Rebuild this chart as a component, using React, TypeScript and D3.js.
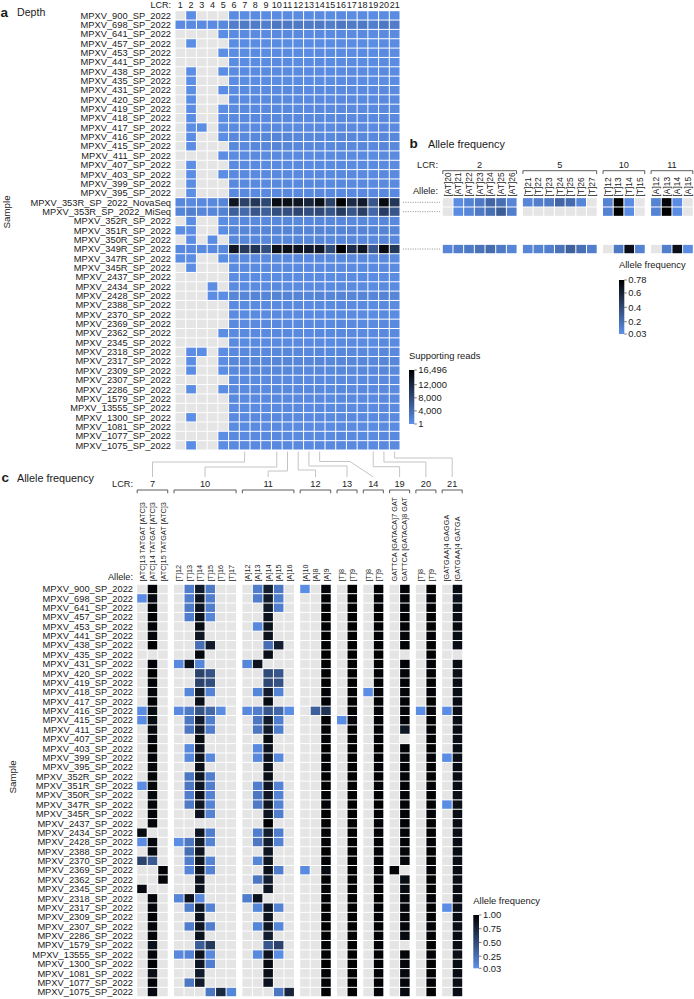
import React from "react";
import * as d3 from "d3";

const FONT = "Liberation Sans, Arial, Helvetica, sans-serif";
const INK = "#1a1a1a";
const GREY = "#e5e5e5";
const LOW = "#5d90e9";

// ---------- panel a: depth ----------
const lcrA = ["1","2","3","4","5","6","7","8","9","10","11","12","13","14","15","16","17","18","19","20","21"];
const samplesA = [
  "MPXV_900_SP_2022","MPXV_698_SP_2022","MPXV_641_SP_2022","MPXV_457_SP_2022","MPXV_453_SP_2022",
  "MPXV_441_SP_2022","MPXV_438_SP_2022","MPXV_435_SP_2022","MPXV_431_SP_2022","MPXV_420_SP_2022",
  "MPXV_419_SP_2022","MPXV_418_SP_2022","MPXV_417_SP_2022","MPXV_416_SP_2022","MPXV_415_SP_2022",
  "MPXV_411_SP_2022","MPXV_407_SP_2022","MPXV_403_SP_2022","MPXV_399_SP_2022","MPXV_395_SP_2022",
  "MPXV_353R_SP_2022_NovaSeq","MPXV_353R_SP_2022_MiSeq","MPXV_352R_SP_2022","MPXV_351R_SP_2022",
  "MPXV_350R_SP_2022","MPXV_349R_SP_2022","MPXV_347R_SP_2022","MPXV_345R_SP_2022","MPXV_2437_SP_2022",
  "MPXV_2434_SP_2022","MPXV_2428_SP_2022","MPXV_2388_SP_2022","MPXV_2370_SP_2022","MPXV_2369_SP_2022",
  "MPXV_2362_SP_2022","MPXV_2345_SP_2022","MPXV_2318_SP_2022","MPXV_2317_SP_2022","MPXV_2309_SP_2022",
  "MPXV_2307_SP_2022","MPXV_2286_SP_2022","MPXV_1579_SP_2022","MPXV_13555_SP_2022","MPXV_1300_SP_2022",
  "MPXV_1081_SP_2022","MPXV_1077_SP_2022","MPXV_1075_SP_2022",
];
// supporting reads, one row per sample, LCR 1..21 (0 = no reads)
const depthA = [
  [0,300,0,0,0, 520,480,560,500,610,590,540,520,600,470,650,510,560,450,620,500],
  [600,700,600,550,900, 2200,2500,2400,2000,2800,2700,2600,2400,2600,2200,2900,2400,2600,2000,2800,2300],
  [0,0,0,0,300, 600,550,620,580,700,680,640,600,680,560,720,600,650,540,700,580],
  [0,250,0,0,0, 450,420,480,440,520,500,470,450,510,430,550,450,480,400,530,440],
  [0,0,0,0,280, 500,470,530,490,580,560,520,500,560,470,600,490,530,450,580,480],
  [0,0,0,0,0, 480,450,510,470,560,540,500,480,540,450,580,470,510,430,560,460],
  [0,300,0,0,320, 550,520,580,540,640,620,580,550,620,520,660,540,580,500,640,530],
  [0,250,0,0,0, 420,400,450,420,500,480,450,430,480,400,520,430,450,380,500,420],
  [0,280,0,0,300, 600,560,630,580,700,680,640,600,680,560,720,600,640,540,700,580],
  [0,300,0,0,0, 650,600,680,640,760,740,700,660,740,620,780,650,700,600,760,640],
  [0,320,0,0,310, 700,650,720,680,800,780,740,700,780,660,820,690,740,640,800,680],
  [0,300,0,0,330, 720,680,760,700,840,820,780,740,820,700,860,720,780,660,840,700],
  [0,300,400,0,300, 650,610,690,640,760,740,700,660,740,620,780,650,700,600,760,640],
  [0,350,0,0,350, 900,850,950,1100,1300,1250,1050,900,1000,850,1100,900,950,800,1050,900],
  [0,330,0,0,0, 850,800,900,1050,1250,1200,1000,880,950,820,1050,860,920,780,1000,860],
  [0,0,0,0,300, 600,560,640,600,700,680,650,610,680,570,720,600,650,550,700,590],
  [0,280,0,0,0, 620,580,650,610,720,700,660,620,700,580,740,620,660,560,720,600],
  [0,300,0,0,300, 700,650,730,690,800,780,740,700,780,660,820,690,740,640,800,680],
  [0,300,0,0,0, 750,700,780,740,860,840,800,760,840,710,880,740,800,690,860,730],
  [0,280,0,0,0, 680,640,710,670,780,760,720,690,760,640,800,670,720,620,780,660],
  [900,800,700,800,1100, 14000,9100,10200,8300,15200,14800,14000,12400,14800,9100,16496,11500,13500,6600,15200,10200],
  [1200,2000,1100,1000,1600, 5600,4400,6800,5600,7400,7400,8600,7400,8000,6700,9600,6700,9300,4700,9500,6700],
  [0,300,0,0,320, 800,750,840,790,920,900,860,810,900,760,940,800,860,740,920,780],
  [400,350,0,0,350, 1200,1150,1300,1250,1450,1400,1350,1250,1400,1200,1450,1250,1350,1150,1400,1200],
  [0,300,0,350,0, 900,850,950,900,1050,1000,980,920,1000,860,1050,900,960,840,1020,880],
  [800,900,700,800,900, 14000,9900,10700,7400,14800,14800,14400,13500,13700,8300,16496,11500,14000,6600,15300,10200],
  [350,300,0,0,300, 700,660,740,700,820,800,760,720,800,680,840,700,760,650,820,690],
  [0,280,0,0,0, 600,560,630,590,700,680,640,600,680,560,720,600,640,540,700,580],
  [0,0,0,0,0, 500,470,530,500,580,560,530,500,560,470,600,500,530,460,580,480],
  [0,0,0,300,0, 550,520,580,550,640,620,580,550,620,520,660,540,580,500,640,530],
  [0,0,0,350,350, 1200,1100,1250,1200,1400,1350,1300,1200,1350,1150,1400,1200,1300,1100,1350,1150],
  [0,0,0,0,0, 600,560,630,590,700,680,640,600,680,560,720,600,640,540,700,580],
  [0,0,0,0,0, 550,520,580,550,640,620,580,550,620,520,660,540,580,500,640,530],
  [0,0,0,0,0, 650,610,690,640,760,740,700,660,740,620,780,650,700,600,760,640],
  [0,0,0,0,300, 700,650,730,690,800,780,740,700,780,660,820,690,740,640,800,680],
  [0,0,0,0,0, 550,520,580,550,640,620,580,550,620,520,660,540,580,500,640,530],
  [0,300,300,0,300, 800,750,840,790,920,900,860,810,900,760,940,800,860,740,920,780],
  [0,350,0,0,350, 1000,950,1050,1000,1150,1100,1080,1000,1100,950,1150,1000,1060,930,1120,980],
  [0,300,0,0,300, 850,800,900,850,980,950,920,860,950,820,1000,850,920,800,980,840],
  [0,0,0,0,0, 600,560,630,590,700,680,640,600,680,560,720,600,640,540,700,580],
  [0,300,0,0,300, 750,700,780,740,860,840,800,760,840,710,880,740,800,690,860,730],
  [0,0,0,0,0, 650,610,690,640,760,740,700,660,740,620,780,650,700,600,760,640],
  [0,0,0,0,0, 600,560,630,590,700,680,640,600,680,560,720,600,640,540,700,580],
  [0,280,0,0,0, 700,650,730,690,800,780,740,700,780,660,820,690,740,640,800,680],
  [0,0,0,0,0, 550,520,580,550,640,620,580,550,620,520,660,540,580,500,640,530],
  [0,0,0,0,300, 650,610,690,640,760,740,700,660,740,620,780,650,700,600,760,640],
  [0,300,0,0,300, 700,650,730,690,800,780,740,700,780,660,820,690,740,640,800,680],
];
const depthTicks = [1, 4000, 8000, 12000, 16496];

// ---------- panel b: allele frequency (3 samples) ----------
const lcrB = ["2", "5", "10", "11"];
const allelesB = [
  ["[AT]20","[AT]21","[AT]22","[AT]23","[AT]24","[AT]25","[AT]26"],
  ["[T]21","[T]22","[T]23","[T]24","[T]25","[T]26","[T]27"],
  ["[T]12","[T]13","[T]14","[T]15"],
  ["[A]12","[A]13","[A]14","[A]15"],
];
const samplesB = ["MPXV_353R_SP_2022_NovaSeq", "MPXV_353R_SP_2022_MiSeq", "MPXV_349R_SP_2022"];
const afBNovaSeq = [0,.05,.1,.15,.25,.2,.08, .08,.12,.15,.25,.22,.08,0, .1,.78,.05,0, .1,.75,.05,0];
const afBMiSeq = [0,.05,.08,.15,.2,.3,.12, 0,0,0,0,0,0,0, .1,.78,.05,0, .1,.78,.05,0];
const afB349R = [.08,.12,.15,.18,.22,.15,.08, .08,.1,.12,.18,.28,.2,.12, 0,.15,.7,.1, 0,.12,.7,.05];
const afBTicks = [0.03, 0.2, 0.4, 0.6, 0.78];

// ---------- panel c: allele frequency (all samples) ----------
const samplesC = [
  "MPXV_900_SP_2022","MPXV_698_SP_2022","MPXV_641_SP_2022","MPXV_457_SP_2022","MPXV_453_SP_2022",
  "MPXV_441_SP_2022","MPXV_438_SP_2022","MPXV_435_SP_2022","MPXV_431_SP_2022","MPXV_420_SP_2022",
  "MPXV_419_SP_2022","MPXV_418_SP_2022","MPXV_417_SP_2022","MPXV_416_SP_2022","MPXV_415_SP_2022",
  "MPXV_411_SP_2022","MPXV_407_SP_2022","MPXV_403_SP_2022","MPXV_399_SP_2022","MPXV_395_SP_2022",
  "MPXV_352R_SP_2022","MPXV_351R_SP_2022","MPXV_350R_SP_2022","MPXV_347R_SP_2022","MPXV_345R_SP_2022",
  "MPXV_2437_SP_2022","MPXV_2434_SP_2022","MPXV_2428_SP_2022","MPXV_2388_SP_2022","MPXV_2370_SP_2022",
  "MPXV_2369_SP_2022","MPXV_2362_SP_2022","MPXV_2345_SP_2022","MPXV_2318_SP_2022","MPXV_2317_SP_2022",
  "MPXV_2309_SP_2022","MPXV_2307_SP_2022","MPXV_2286_SP_2022","MPXV_1579_SP_2022","MPXV_13555_SP_2022",
  "MPXV_1300_SP_2022","MPXV_1081_SP_2022","MPXV_1077_SP_2022","MPXV_1075_SP_2022",
];
const lcrC = ["7", "10", "11", "12", "13", "14", "19", "20", "21"];
const allelesC = [
  ["[ATC]13 TATGAT [ATC]3","[ATC]14 TATGAT [ATC]3","[ATC]15 TATGAT [ATC]3"],
  ["[T]12","[T]13","[T]14","[T]15","[T]16","[T]17"],
  ["[A]12","[A]13","[A]14","[A]15","[A]16"],
  ["[A]10","[A]8","[A]9"],
  ["[T]8","[T]9"],
  ["[T]8","[T]9"],
  ["GATTCA [GATACA]7 GAT","GATTCA [GATACA]8 GAT"],
  ["[T]8","[T]9"],
  ["[GATGAA]4 GAGGA","[GATGAA]4 GATGA"],
];
const afC7 = [
  [0,.97,0],[.05,.93,0],[0,.97,0],[0,.98,0],[0,.97,0],[0,.95,0],[0,.99,0],[0,0,0],[0,.97,0],[0,.99,0],
  [0,.97,0],[0,.95,0],[0,.98,0],[.06,.92,0],[.06,.92,0],[0,.94,0],[0,.95,0],[0,.99,0],[0,.97,0],[0,.95,0],
  [0,.96,0],[.05,.95,0],[0,.94,0],[0,.96,0],[0,.97,0],[0,.95,0],[.92,0,0],[.05,.95,0],[0,.93,0],[.55,.4,0],
  [0,0,.97],[0,0,.96],[.93,0,0],[0,.96,0],[0,.95,0],[0,.98,0],[0,.96,0],[0,.97,0],[0,.88,0],[0,.96,0],
  [0,.98,0],[0,.9,0],[0,.97,0],[0,.93,0],
];
const afC10 = [
  [0,.15,.82,.18,0,0],[0,.15,.85,.15,0,0],[0,.18,.85,.15,0,0],[0,.15,.87,.1,0,0],[0,0,.92,0,0,0],
  [0,0,.85,0,0,0],[0,0,.25,.82,0,0],[0,0,.95,0,0,0],[.08,.88,.1,0,0,0],[0,0,.55,.45,0,0],
  [0,0,.55,.48,0,0],[0,.1,.82,.12,0,0],[0,0,.9,0,0,0],[.07,.18,.45,.3,.06,0],[0,.2,.82,.15,0,0],
  [0,.2,.82,.15,0,0],[0,0,.92,0,0,0],[0,.08,.87,0,0,0],[0,.08,.87,.08,0,0],[0,0,.9,0,0,0],
  [0,.2,.85,.15,0,0],[0,.2,.85,.15,0,0],[0,.15,.87,.12,0,0],[0,.18,.85,.12,0,0],[0,0,.87,.12,0,0],
  [0,0,0,0,0,0],[0,0,.85,.15,0,0],[.05,.2,.82,.12,0,0],[0,.25,.85,0,0,0],[0,.15,.85,.12,0,0],
  [0,.1,.87,.12,0,0],[0,0,.87,0,0,0],[0,0,.87,0,0,0],[.1,.87,.08,0,0,0],[0,.15,.85,.12,0,0],
  [0,0,.87,0,0,0],[0,.15,.85,.15,0,0],[0,0,.87,0,0,0],[0,0,.38,.62,0,0],[.08,.12,.87,.08,0,0],
  [0,0,.85,.15,0,0],[0,0,.82,0,0,0],[0,.2,.82,0,0,0],[0,0,0,.2,.72,.1],
];
const afC11 = [
  [0,.15,.8,.2,0],[0,.15,.82,.15,0],[0,0,.82,.15,0],[0,0,.87,0,0],[0,.08,.87,0,0],
  [0,0,.87,0,0],[0,0,.25,.8,0],[0,0,.9,0,0],[.1,.87,0,0,0],[0,0,.5,.42,0],
  [0,0,.52,.45,0],[0,.1,.82,.12,0],[0,0,.92,0,0],[.08,.15,.42,.3,.05],[0,.2,.82,.15,0],
  [0,.2,.82,.15,0],[0,0,.92,0,0],[0,.08,.87,0,0],[0,.08,.87,.08,0],[0,0,.9,0,0],
  [0,0,.9,0,0],[0,.15,.85,.12,0],[0,.2,.85,.12,0],[0,.18,.85,.12,0],[0,0,.85,.15,0],
  [0,0,.99,0,0],[0,.15,.8,.15,0],[0,.2,.8,.12,0],[0,0,.85,0,0],[0,.1,.85,0,0],
  [0,0,.88,.15,0],[0,.2,.8,0,0],[0,0,.85,0,0],[.15,.87,0,0,0],[0,.1,.85,.12,0],
  [0,0,.85,0,0],[0,.1,.85,.1,0],[0,0,.8,0,0],[0,0,.42,.55,0],[0,.08,.87,.05,0],
  [0,0,.92,0,0],[0,0,.9,0,0],[0,0,.87,0,0],[0,0,0,.2,.75],
];
const afC12 = [
  [.05,0,.95],[0,0,.98],[0,0,.98],[0,0,.99],[0,0,.98],[0,0,.99],[0,0,.98],[0,0,.99],[0,0,.98],[0,0,.98],
  [0,0,.99],[0,0,.97],[0,0,.98],[0,.35,.65],[0,0,.98],[0,0,.97],[0,0,.98],[0,0,.99],[0,0,.98],[0,0,.97],
  [0,0,.98],[0,0,.99],[0,0,.98],[0,0,.97],[0,0,.99],[0,0,.98],[0,0,.97],[0,0,.98],[0,0,.99],[0,0,.98],
  [.07,0,.92],[0,0,.98],[0,0,.97],[0,0,.98],[0,0,.99],[0,0,.98],[0,0,.99],[0,0,.98],[0,0,.97],[0,0,.98],
  [0,0,.99],[0,0,.98],[0,0,.97],[0,0,.98],
];
const afC13 = [
  [0,.99],[0,.99],[0,.98],[0,.99],[0,.99],[0,.98],[0,.99],[0,.99],[0,.98],[0,.99],
  [0,.99],[0,.98],[0,.99],[0,.98],[.05,.95],[0,.99],[0,.98],[0,.99],[0,.99],[0,.98],
  [0,.99],[0,.99],[0,.98],[0,.99],[0,.99],[0,.98],[0,.99],[0,.99],[0,.98],[0,.99],
  [0,.99],[0,.98],[0,.99],[0,.99],[0,.98],[0,.99],[0,.99],[0,.98],[0,.99],[0,.99],
  [0,.98],[0,.99],[0,.99],[0,.98],
];
const afC14 = [
  [0,.98],[0,.97],[0,.98],[0,.99],[0,.98],[0,.97],[0,.98],[0,.99],[0,.98],[0,.97],
  [0,.98],[.05,.95],[0,.98],[0,.96],[0,.98],[0,.97],[0,.98],[0,.99],[0,.98],[0,.97],
  [0,.98],[0,.97],[0,.98],[0,.99],[0,.98],[0,.97],[0,.98],[0,.98],[0,.97],[0,.98],
  [0,.98],[0,.97],[0,.98],[0,.99],[0,.98],[0,.97],[0,.98],[0,.98],[0,.97],[0,.98],
  [0,.98],[0,.97],[0,.98],[0,.97],
];
const afC19 = [
  [0,.97],[0,.96],[0,.97],[0,.98],[0,.97],[0,.96],[0,.97],[0,0],[0,.97],[0,.96],
  [0,.97],[0,.96],[0,.97],[0,.96],[0,.97],[0,.85],[0,0],[0,.97],[0,.96],[0,.97],
  [0,.96],[0,.97],[0,.96],[0,.97],[0,.96],[0,.97],[0,.96],[0,.97],[0,.96],[0,.95],
  [.97,0],[0,.92],[0,.93],[0,.95],[0,.95],[0,.96],[0,.95],[0,.94],[0,0],[0,.96],
  [0,.95],[0,.94],[0,.95],[0,.93],
];
const afC20 = [
  [0,.98],[0,.97],[0,.98],[0,.99],[0,.98],[0,.97],[0,.98],[0,.98],[0,.97],[0,.98],
  [0,.98],[0,.97],[0,.98],[.05,.95],[0,.98],[0,.97],[0,.98],[0,.98],[0,.97],[0,.98],
  [0,.98],[0,.97],[0,.98],[0,.98],[0,.97],[0,.98],[0,.98],[0,.97],[0,.98],[0,.98],
  [0,.97],[0,.98],[0,.98],[0,.97],[0,.98],[0,.98],[0,.97],[0,.98],[0,.98],[0,.97],
  [0,.98],[0,.98],[0,.97],[0,.98],
];
const afC21 = [
  [0,.92],[0,.88],[0,.92],[0,.9],[0,.93],[0,.92],[0,.91],[0,0],[0,.92],[0,.9],
  [0,.92],[0,.91],[0,.92],[.05,.9],[0,.91],[0,.92],[0,.9],[0,.92],[.05,.9],[0,.92],
  [0,.91],[0,.92],[0,.9],[.05,.9],[0,.91],[0,.92],[0,.9],[0,.91],[0,.92],[0,.9],
  [0,.91],[0,.9],[0,.92],[0,.91],[.05,.9],[0,.91],[0,.9],[0,.92],[0,.91],[0,.9],
  [0,.92],[0,.91],[0,.9],[0,.91],
];
const afCByLcr = [afC7, afC10, afC11, afC12, afC13, afC14, afC19, afC20, afC21];
const afCTicks = [0.03, 0.25, 0.5, 0.75, 1];

// ---------- layout ----------
const xA = d3.scaleBand<string>().domain(lcrA).range([175, 400]);
const yA = d3.scaleBand<string>().domain(samplesA).range([10.7, 450]);
const yC = d3.scaleBand<string>().domain(samplesC).range([584.3, 996.7]);

const depthColor = d3.scaleLinear<string>().domain([1, 16496]).range([LOW, "#000000"]).interpolate(d3.interpolateRgb).clamp(true);
const afBColor = d3.scaleLinear<string>().domain([0.03, 0.78]).range([LOW, "#000000"]).interpolate(d3.interpolateRgb).clamp(true);
const afCColor = d3.scaleLinear<string>().domain([0.03, 1]).range([LOW, "#000000"]).interpolate(d3.interpolateRgb).clamp(true);

// column unit positions: one unit per allele, half a unit between LCR groups
function unitOffsets(groups: string[][]) {
  const starts: number[] = [];
  let u = 0;
  groups.forEach((g, i) => {
    starts.push(u);
    u += g.length + (i < groups.length - 1 ? 0.5 : 0);
  });
  return { starts, total: u };
}
const unitsB = unitOffsets(allelesB);
const xB = d3.scaleLinear().domain([0, unitsB.total]).range([442.3, 693.3]);
const unitsC = unitOffsets(allelesC);
const xC = d3.scaleLinear().domain([0, unitsC.total]).range([136.7, 462.7]);

// connector elbows (panel a column -> panel c group)
const connectorLevel: Record<string, number> = { "7": 462, "10": 467, "11": 471, "12": 470, "13": 466, "14": 461.5, "19": 466.7, "20": 462, "21": 458 };

function Cell({ x, y, w, h, fill }: { x: number; y: number; w: number; h: number; fill: string }) {
  return <rect x={x + 0.5} y={y + 0.5} width={w - 1} height={h - 1} fill={fill} />;
}

function ColorBar({ id, x, y0, y1, w, color, domain, ticks, fmt, title, titleY }: any) {
  const ys = d3.scaleLinear().domain(domain).range([y1, y0]);
  const stops = d3.range(0, 1.0001, 0.1);
  return (
    <g>
      <defs>
        <linearGradient id={id} x1="0" y1="1" x2="0" y2="0">
          {stops.map((t) => (
            <stop key={t} offset={t} stopColor={color(domain[0] + t * (domain[1] - domain[0]))} />
          ))}
        </linearGradient>
      </defs>
      <text x={x} y={titleY} fontSize={9.4} fill={INK}>{title}</text>
      <rect x={x} y={y0} width={w} height={y1 - y0} fill={`url(#${id})`} />
      {ticks.map((t: number) => (
        <g key={t}>
          <line x1={x + w} x2={x + w + 2.5} y1={ys(t)} y2={ys(t)} stroke="#444" strokeWidth={0.7} />
          <text x={x + w + 4} y={ys(t)} dy="0.35em" fontSize={9.4} fill={INK}>{fmt(t)}</text>
        </g>
      ))}
    </g>
  );
}

export default function App() {
  const bwA = xA.bandwidth();
  const bhA = yA.bandwidth();
  const bhC = yC.bandwidth();
  const cwB = xB(1) - xB(0);
  const cwC = xC(1) - xC(0);
  const afBRows = [afBNovaSeq, afBMiSeq, afB349R];

  return (
    <div style={{ position: "absolute", left: 0, top: 0 }}>
      <svg width={694} height={999} style={{ display: "block", fontFamily: FONT }}>
        {/* ---------- a ---------- */}
        <text x={0.5} y={16.5} fontSize={13.5} fontWeight="bold" fill={INK}>a</text>
        <text x={17} y={16} fontSize={10.6} fill={INK}>Depth</text>
        <text x={171} y={8.3} fontSize={9} textAnchor="end" fill={INK}>LCR:</text>
        {lcrA.map((l) => (
          <text key={l} x={xA(l)! + bwA / 2} y={8.3} fontSize={9} textAnchor="middle" fill={INK}>{l}</text>
        ))}
        {samplesA.map((s, i) => (
          <g key={s}>
            <text x={171} y={yA(s)! + bhA / 2} dy="0.35em" fontSize={9.3} textAnchor="end" fill={INK}>{s}</text>
            {lcrA.map((l, j) => {
              const v = depthA[i][j];
              return <Cell key={l} x={xA(l)!} y={yA(s)!} w={bwA} h={bhA} fill={v > 0 ? depthColor(v) : GREY} />;
            })}
          </g>
        ))}
        <text transform={`translate(10,212) rotate(-90)`} fontSize={9.8} textAnchor="middle" fill={INK}>Sample</text>

        <ColorBar id="gDepth" x={409} y0={370} y1={424} w={5.3} color={depthColor} domain={[1, 16496]}
          ticks={depthTicks} fmt={d3.format(",")} title="Supporting reads" titleY={359} />

        {/* dotted guides a -> b */}
        {samplesB.map((s) => (
          <line key={s} x1={403} x2={440} y1={yA(s)! + bhA / 2} y2={yA(s)! + bhA / 2}
            stroke="#8a8a8a" strokeWidth={0.8} strokeDasharray="1.2 1.2" />
        ))}

        {/* ---------- b ---------- */}
        <text x={409.5} y={148.3} fontSize={13.5} fontWeight="bold" fill={INK}>b</text>
        <text x={428} y={148.3} fontSize={10.8} fill={INK}>Allele frequency</text>
        <text x={438} y={168} fontSize={9.2} textAnchor="end" fill={INK}>LCR:</text>
        <text x={438} y={194} fontSize={9.2} textAnchor="end" fill={INK}>Allele:</text>
        {lcrB.map((l, g) => {
          const x0 = xB(unitsB.starts[g]);
          const x1 = xB(unitsB.starts[g] + allelesB[g].length);
          return (
            <g key={l}>
              <text x={(x0 + x1) / 2} y={167.5} fontSize={9.2} textAnchor="middle" fill={INK}>{l}</text>
              <path d={`M${x0 + 0.5},174 V170.7 H${x1 - 0.5} V174`} fill="none" stroke="#333" strokeWidth={0.8} />
              {allelesB[g].map((a, i) => {
                const cx = xB(unitsB.starts[g] + i) + cwB / 2;
                return (
                  <text key={a} transform={`translate(${cx},196.5) rotate(-90)`} dy="0.35em" fontSize={8.4} fill={INK}>{a}</text>
                );
              })}
            </g>
          );
        })}
        {samplesB.map((s, r) => (
          <g key={s}>
            {lcrB.map((l, g) =>
              allelesB[g].map((a, i) => {
                const k = unitsB.starts[g] - g * 0.5 + i;
                const v = afBRows[r][k];
                return <Cell key={l + a} x={xB(unitsB.starts[g] + i)} y={yA(s)!} w={cwB} h={bhA} fill={v > 0 ? afBColor(v) : GREY} />;
              })
            )}
          </g>
        ))}
        <ColorBar id="gAfB" x={619} y0={280} y1={334} w={5.3} color={afBColor} domain={[0.03, 0.78]}
          ticks={afBTicks} fmt={(t: number) => String(t)} title="Allele frequency" titleY={268} />

        {/* ---------- connectors a -> c ---------- */}
        {lcrC.map((l, g) => {
          const sx = xA(l)! + bwA / 2;
          const tx = (xC(unitsC.starts[g]) + xC(unitsC.starts[g] + allelesC[g].length)) / 2;
          const lv = connectorLevel[l];
          const d = l === "14"
            ? `M${sx},451.5 V${lv} H350 L${tx},477`
            : `M${sx},451.5 V${lv} H${tx} V477`;
          return <path key={l} d={d} fill="none" stroke="#c4c4c4" strokeWidth={1} />;
        })}

        {/* ---------- c ---------- */}
        <text x={1.5} y={482} fontSize={13.5} fontWeight="bold" fill={INK}>c</text>
        <text x={17} y={482} fontSize={10.8} fill={INK}>Allele frequency</text>
        <text x={133} y={487} fontSize={9.2} textAnchor="end" fill={INK}>LCR:</text>
        <text x={133} y={580} fontSize={9.2} textAnchor="end" fill={INK}>Allele:</text>
        {lcrC.map((l, g) => {
          const x0 = xC(unitsC.starts[g]);
          const x1 = xC(unitsC.starts[g] + allelesC[g].length);
          return (
            <g key={l}>
              <text x={(x0 + x1) / 2} y={486.5} fontSize={9.2} textAnchor="middle" fill={INK}>{l}</text>
              <path d={`M${x0 + 0.5},493.3 V490 H${x1 - 0.5} V493.3`} fill="none" stroke="#333" strokeWidth={0.8} />
              {allelesC[g].map((a, i) => {
                const cx = xC(unitsC.starts[g] + i) + cwC / 2;
                return (
                  <text key={a} transform={`translate(${cx},581.5) rotate(-90)`} dy="0.35em" fontSize={7.3} fill={INK}>{a}</text>
                );
              })}
            </g>
          );
        })}
        {samplesC.map((s, r) => (
          <g key={s}>
            <text x={133} y={yC(s)! + bhC / 2} dy="0.35em" fontSize={9.3} textAnchor="end" fill={INK}>{s}</text>
            {lcrC.map((l, g) =>
              allelesC[g].map((a, i) => {
                const v = afCByLcr[g][r][i];
                return <Cell key={l + a} x={xC(unitsC.starts[g] + i)} y={yC(s)!} w={cwC} h={bhC} fill={v > 0 ? afCColor(v) : GREY} />;
              })
            )}
          </g>
        ))}
        <text transform={`translate(16,777) rotate(-90)`} fontSize={9.8} textAnchor="middle" fill={INK}>Sample</text>

        <ColorBar id="gAfC" x={473.3} y0={915} y1={968.3} w={5.7} color={afCColor} domain={[0.03, 1]}
          ticks={afCTicks} fmt={d3.format(".2f")} title="Allele frequency" titleY={904} />
      </svg>
    </div>
  );
}
